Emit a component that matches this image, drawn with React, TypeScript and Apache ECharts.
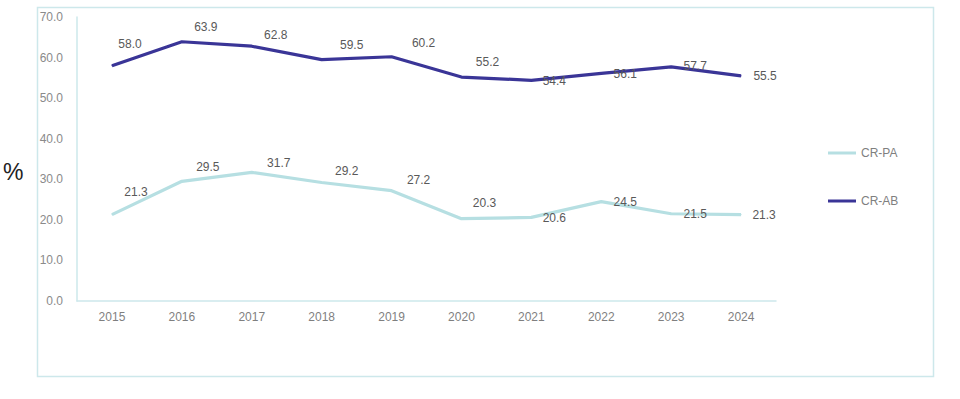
import React, { useEffect, useRef } from "react";
import * as echarts from "echarts";

const years = ["2015", "2016", "2017", "2018", "2019", "2020", "2021", "2022", "2023", "2024"];
const crPA = [21.3, 29.5, 31.7, 29.2, 27.2, 20.3, 20.6, 24.5, 21.5, 21.3];
const crAB = [58.0, 63.9, 62.8, 59.5, 60.2, 55.2, 54.4, 56.1, 57.7, 55.5];

// label placement offsets (layout only)
const offsPA: [number, number][] = [[24, -23], [26, -14], [27, -9], [25, -12], [27, -11], [23, -16], [23, 1], [24, 0], [24, 0], [23, 0]];
const offsAB: [number, number][] = [[18, -22], [24, -15], [24, -11], [30, -15], [32, -14], [26, -15], [23, 1], [24, 1], [24, -1], [24, 0]];

const PA_COLOR = "#b6dfe2";
const AB_COLOR = "#3a3597";
const BORDER = "#cde8eb";

function buildData(vals: number[], offs: [number, number][]) {
  return vals.map((v, i) => ({ value: v, label: { offset: offs[i] } }));
}

export default function App() {
  const ref = useRef<HTMLDivElement>(null);
  useEffect(() => {
    if (!ref.current) return;
    const chart = echarts.init(ref.current, undefined, { renderer: "svg" });
    const labelCommon = {
      show: true,
      position: "inside" as const,
      color: "#595959",
      fontSize: 12,
      fontFamily: "Liberation Sans, Arial, sans-serif",
      formatter: (p: any) => Number(p.value).toFixed(1),
    };
    chart.setOption({
      animation: false,
      backgroundColor: "#ffffff",
      textStyle: { fontFamily: "Liberation Sans, Arial, sans-serif" },
      graphic: [
        {
          type: "rect",
          shape: { x: 37.5, y: 7.5, width: 896, height: 369 },
          style: { fill: "none", stroke: BORDER, lineWidth: 1.5 },
          silent: true,
        },
        {
          type: "text",
          left: 3,
          top: 160,
          style: { text: "%", fontSize: 23, fill: "#222222", fontFamily: "Liberation Sans, Arial, sans-serif" },
        },
      ],
      grid: { left: 77, right: 184, top: 17, bottom: 98, containLabel: false },
      legend: {
        orient: "vertical",
        left: 823,
        top: 142,
        itemGap: 36,
        itemWidth: 28,
        itemHeight: 3,
        icon: "rect",
        textStyle: { color: "#7f7f7f", fontSize: 12 },
        data: ["CR-PA", "CR-AB"],
      },
      xAxis: {
        type: "category",
        data: years,
        boundaryGap: true,
        axisLine: { show: true, lineStyle: { color: BORDER, width: 1.5 } },
        axisTick: { show: false },
        axisLabel: { color: "#7f7f7f", fontSize: 12, margin: 10 },
        splitLine: { show: false },
      },
      yAxis: {
        type: "value",
        min: 0,
        max: 70,
        interval: 10,
        axisLine: { show: true, lineStyle: { color: BORDER, width: 1.5 } },
        axisTick: { show: false },
        splitLine: { show: false },
        axisLabel: { color: "#8a8a8a", fontSize: 12, margin: 14, formatter: (v: number) => v.toFixed(1) },
      },
      series: [
        {
          name: "CR-PA",
          type: "line",
          data: buildData(crPA, offsPA),
          symbol: "circle",
          symbolSize: 1,
          showSymbol: true,
          lineStyle: { color: PA_COLOR, width: 3.2 },
          itemStyle: { color: PA_COLOR },
          label: labelCommon,
        },
        {
          name: "CR-AB",
          type: "line",
          data: buildData(crAB, offsAB),
          symbol: "circle",
          symbolSize: 1,
          showSymbol: true,
          lineStyle: { color: AB_COLOR, width: 3.2 },
          itemStyle: { color: AB_COLOR },
          label: labelCommon,
        },
      ],
    });
    return () => chart.dispose();
  }, []);
  return <div ref={ref} style={{ position: "absolute", left: 0, top: 0, width: 960, height: 399 }} />;
}
